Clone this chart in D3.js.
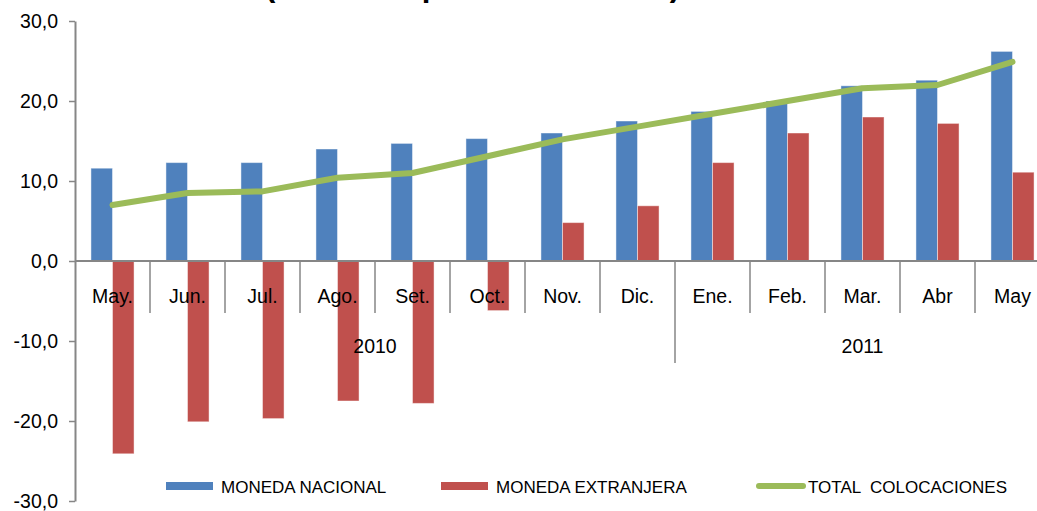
<!DOCTYPE html>
<html>
<head>
<meta charset="utf-8">
<script src="https://d3js.org/d3.v7.min.js"></script>
<style>
  body { margin: 0; background: #fff; }
  svg { display: block; font-family: "Liberation Sans", Arial, sans-serif; }
</style>
</head>
<body>

<svg width="1037" height="511"></svg>

<script>
// data (% var.)
var months = ["May.", "Jun.", "Jul.", "Ago.", "Set.", "Oct.", "Nov.", "Dic.", "Ene.", "Feb.", "Mar.", "Abr", "May"];
var monedaNacional   = [11.6, 12.3, 12.3, 14.0, 14.7, 15.3, 16.0, 17.5, 18.7, 20.0, 21.9, 22.6, 26.2];
var monedaExtranjera = [-24.1, -20.1, -19.7, -17.5, -17.8, -6.2, 4.8, 6.9, 12.3, 16.0, 18.0, 17.2, 11.1];
var totalColocaciones = [7.0, 8.5, 8.7, 10.4, 11.0, 13.1, 15.2, 16.8, 18.4, 20.0, 21.6, 22.0, 24.9];
var yearLabels = ["2010", "2011"];
var monthsPerYear = [8, 5];
var yTicks = [-30, -20, -10, 0, 10, 20, 30];
var seriesNames = ["MONEDA NACIONAL", "MONEDA EXTRANJERA", "TOTAL  COLOCACIONES"];

var colors = { mn: "#4F81BD", me: "#C0504D", tot: "#9BBB59" };
var axisColor = "#868686";

var svg = d3.select("svg");

var x = d3.scaleBand()
    .domain(months)
    .range([75, 1050])
    .padding(0);

var x1 = d3.scaleBand()
    .domain(["mn", "me"])
    .range([0, x.bandwidth()])
    .paddingInner(0)
    .paddingOuter(0.74);

var y = d3.scaleLinear()
    .domain([-30, 30])
    .range([501, 21]);

var locale = d3.formatLocale({ decimal: ",", thousands: ".", grouping: [3], currency: ["", ""], minus: "-" });
var fmt = locale.format(".1f");

// title (mostly above the top edge, as in the original)
svg.append("text")
    .attr("x", 265)
    .attr("y", -4)
    .attr("font-size", 31)
    .attr("font-weight", "bold")
    .text("(Variación porcentual anual)");

// bars
var rows = months.map(function(m, i) {
  return { month: m, mn: monedaNacional[i], me: monedaExtranjera[i] };
});

var group = svg.append("g").selectAll("g")
    .data(rows)
    .enter().append("g")
      .attr("transform", function(d) { return "translate(" + x(d.month) + ",0)"; });

group.selectAll("rect")
    .data(function(d) { return ["mn", "me"].map(function(k) { return { key: k, value: d[k] }; }); })
    .enter().append("rect")
      .attr("x", function(d) { return x1(d.key); })
      .attr("width", x1.bandwidth())
      .attr("y", function(d) { return y(Math.max(0, d.value)); })
      .attr("height", function(d) { return Math.abs(y(d.value) - y(0)); })
      .attr("fill", function(d) { return colors[d.key]; })
      .attr("stroke", "rgba(255,255,255,0.45)")
      .attr("stroke-width", 1);

// y axis
var yAxis = svg.append("g")
    .attr("transform", "translate(75,0)")
    .call(d3.axisLeft(y).tickValues(yTicks).tickSize(6).tickSizeOuter(0).tickPadding(11).tickFormat(fmt));
yAxis.select(".domain").attr("stroke", axisColor).attr("stroke-width", 2);
yAxis.selectAll(".tick line").attr("stroke", axisColor).attr("stroke-width", 1.5);
yAxis.selectAll(".tick text")
    .attr("font-size", 19.5)
    .attr("font-family", "Liberation Sans, Arial, sans-serif")
    .attr("fill", "#000");

// category axis along zero
svg.append("line")
    .attr("x1", 75).attr("x2", 1050)
    .attr("y1", y(0)).attr("y2", y(0))
    .attr("stroke", axisColor)
    .attr("stroke-width", 2);

var yearStarts = [];
var acc = 0;
monthsPerYear.forEach(function(n) { yearStarts.push(acc); acc += n; });

svg.append("g").selectAll("line")
    .data(months.slice(1))
    .enter().append("line")
      .attr("x1", function(d) { return x(d); })
      .attr("x2", function(d) { return x(d); })
      .attr("y1", y(0))
      .attr("y2", function(d, i) { return yearStarts.indexOf(i + 1) > 0 ? 363 : 313; })
      .attr("stroke", axisColor)
      .attr("stroke-width", 1.5);

svg.append("g").selectAll("text")
    .data(months)
    .enter().append("text")
      .attr("x", function(d) { return x(d) + x.bandwidth() / 2; })
      .attr("y", 303)
      .attr("text-anchor", "middle")
      .attr("font-size", 19.5)
      .text(function(d) { return d; });

svg.append("g").selectAll("text")
    .data(yearLabels)
    .enter().append("text")
      .attr("x", function(d, i) {
        var a = x(months[yearStarts[i]]);
        var b = x(months[yearStarts[i] + monthsPerYear[i] - 1]) + x.bandwidth();
        return (a + b) / 2;
      })
      .attr("y", 353)
      .attr("text-anchor", "middle")
      .attr("font-size", 19.5)
      .text(function(d) { return d; });

// total line
var line = d3.line()
    .x(function(d, i) { return x(months[i]) + x.bandwidth() / 2; })
    .y(function(d) { return y(d); });

svg.append("path")
    .datum(totalColocaciones)
    .attr("d", line)
    .attr("fill", "none")
    .attr("stroke", colors.tot)
    .attr("stroke-width", 6)
    .attr("stroke-linejoin", "round")
    .attr("stroke-linecap", "round");

// legend
var legend = svg.append("g");
var legendX = [166, 441, 757];
var legendKeys = ["mn", "me", "tot"];

legendKeys.forEach(function(k, i) {
  if (k === "tot") {
    legend.append("line")
        .attr("x1", legendX[i] + 2).attr("x2", legendX[i] + 46)
        .attr("y1", 486).attr("y2", 486)
        .attr("stroke", colors[k])
        .attr("stroke-width", 6)
        .attr("stroke-linecap", "round");
  } else {
    legend.append("rect")
        .attr("x", legendX[i]).attr("y", 482)
        .attr("width", 47).attr("height", 8)
        .attr("fill", colors[k]);
  }
  legend.append("text")
      .attr("x", legendX[i] + (k === "tot" ? 51 : 55))
      .attr("y", 493)
      .attr("font-size", 17)
      .attr("xml:space", "preserve")
      .style("white-space", "pre")
      .text(seriesNames[i]);
});

</script>
</body>
</html>
